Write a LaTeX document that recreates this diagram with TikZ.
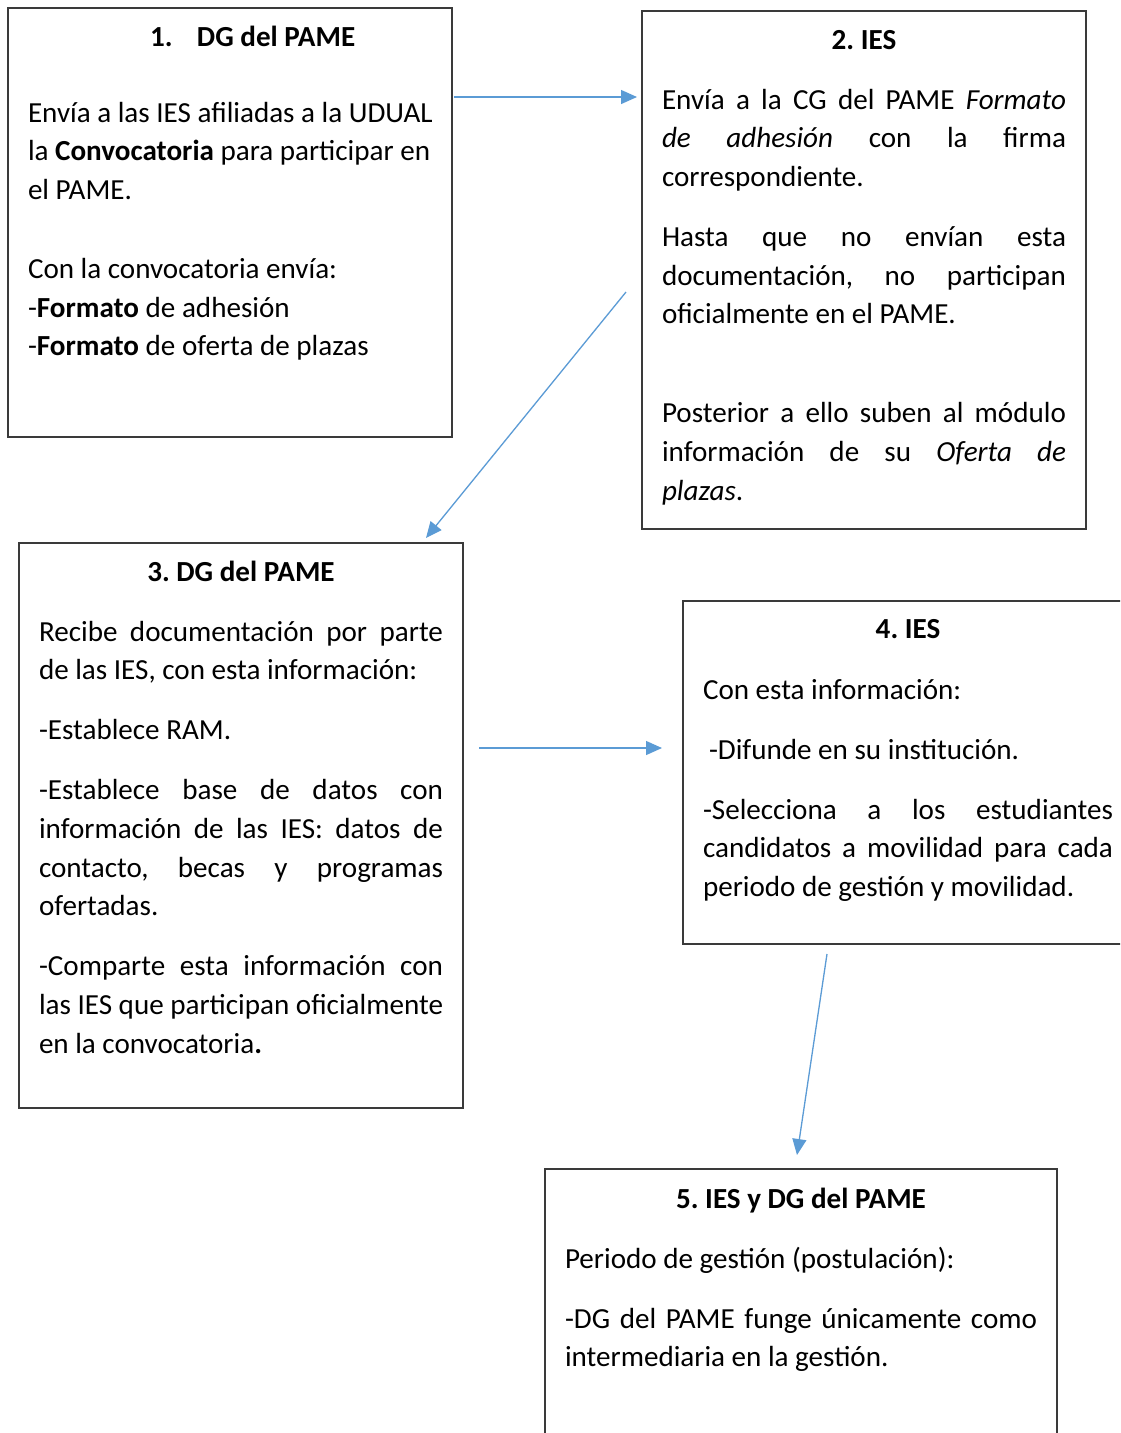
\documentclass[tikz,border=0pt]{standalone}
\usepackage{fontspec}
\setmainfont{Carlito}
\usetikzlibrary{arrows.meta,calc}
\definecolor{arrblue}{HTML}{5B9BD5}
\definecolor{boxgray}{HTML}{3A3A3A}
\newlength\tw
\newcommand\bodysetup[1]{\setlength{\tw}{#1}\frenchspacing\spaceskip=0.226em plus 0.1em minus 0.05em\relax\xspaceskip=\spaceskip}
\newcommand\jline[1]{\hbox to \tw{\spaceskip=0.226em plus 1fil\relax\xspaceskip=\spaceskip #1}\par}
\newcommand\nline[1]{\mbox{#1}\par}
\newcommand\pgap{\vspace{21.3pt}}
\newcommand\bodyfont{\fontsize{29.1}{38.7}\selectfont}
\tikzset{
  boxnode/.style={draw=boxgray, line width=1.4pt, anchor=north west, inner sep=0pt, outer sep=0pt},
  txtnode/.style={anchor=base west, inner sep=0pt, outer sep=0pt, align=left,
    text width=#1, font=\bodyfont},
  arr/.style={draw=arrblue, line width=1.3pt, -{Triangle[length=16pt,width=14pt]}},
}
\begin{document}
\begin{tikzpicture}[x=1pt,y=-1pt]
\useasboundingbox (0,0) rectangle (1120,1433);
\clip (0,0) rectangle (1120,1433);
\fill[white] (0,0) rectangle (1120,1433);

% boxes
\node[boxnode, minimum width=444pt, minimum height=429pt] (b1) at (8,8) {};
\node[boxnode, minimum width=444pt, minimum height=518pt] (b2) at (642,11) {};
\node[boxnode, minimum width=444pt, minimum height=565pt] (b3) at (19,543) {};
\node[boxnode, minimum width=450pt, minimum height=343pt] (b4) at (683,601) {};
\node[boxnode, minimum width=512pt, minimum height=300pt] (b5) at (545,1169) {};

% texts
\node[txtnode=404pt] (t1) at ($(b1.north west)+(20,38)$) {\bodysetup{404pt}%
\hspace*{122pt}\textbf{\makebox[47pt][l]{1.}DG del PAME}\par
\vspace{37.3pt}
\nline{Envía a las IES afiliadas a la UDUAL}
\nline{la \textbf{Convocatoria} para participar en}
\nline{el PAME.}
\vspace{40.3pt}
\nline{Con la convocatoria envía:}
\nline{-\textbf{Formato} de adhesión}
\nline{-\textbf{Formato} de oferta de plazas}
};

\node[txtnode=404pt] (t2) at ($(b2.north west)+(20,38)$) {\bodysetup{404pt}%
{\centering\bfseries 2. IES\par}
\pgap
\jline{Envía a la CG del PAME \textit{Formato}}
\jline{\textit{de} \textit{adhesión} con la firma}
\nline{correspondiente.}
\pgap
\jline{Hasta que no envían esta}
\jline{documentación, no participan}
\nline{oficialmente en el PAME.}
\vspace{60.3pt}
\jline{Posterior a ello suben al módulo}
\jline{información de su \textit{Oferta} \textit{de}}
\nline{\textit{plazas}.}
};

\node[txtnode=404pt] (t3) at ($(b3.north west)+(20,38)$) {\bodysetup{404pt}%
{\centering\bfseries 3. DG del PAME\par}
\pgap
\jline{Recibe documentación por parte}
\nline{de las IES, con esta información:}
\pgap
\nline{-Establece RAM.}
\pgap
\jline{-Establece base de datos con}
\jline{información de las IES: datos de}
\jline{contacto, becas y programas}
\nline{ofertadas.}
\pgap
\jline{-Comparte esta información con}
\jline{las IES que participan oficialmente}
\nline{en la convocatoria\textbf{.}}
};

\node[txtnode=410pt] (t4) at ($(b4.north west)+(20,37)$) {\bodysetup{410pt}%
{\centering\bfseries 4. IES\par}
\vspace{22.3pt}
\nline{Con esta información:}
\pgap
\nline{\hspace*{6pt}-Difunde en su institución.}
\pgap
\jline{-Selecciona a los estudiantes}
\jline{candidatos a movilidad para cada}
\nline{periodo de gestión y movilidad.}
};

\node[txtnode=472pt] (t5) at ($(b5.north west)+(20,39)$) {\bodysetup{472pt}%
{\centering\bfseries 5. IES y DG del PAME\par}
\pgap
\nline{Periodo de gestión (postulación):}
\pgap
\jline{-DG del PAME funge únicamente como}
\nline{intermediaria en la gestión.}
};

% arrow end points
\coordinate (a1s) at ($(b1.north east)+(2,89)$);
\coordinate (a1e) at ($(b2.north west)+(-5,86)$);
\coordinate (a2s) at ($(b2.north west)+(-16,281)$);
\coordinate (a2e) at ($(b3.north west)+(407,-5)$);
\coordinate (a3s) at ($(b3.north east)+(16,205)$);
\coordinate (a3e) at ($(b4.north west)+(-21,147)$);
\coordinate (a4s) at ($(b4.south west)+(144,10)$);
\coordinate (a4e) at ($(b5.north west)+(252,-14)$);

\draw[arr] (a1s) -- (a1e);
\draw[arr] (a2s) -- (a2e);
\draw[arr] (a3s) -- (a3e);
\draw[arr] (a4s) -- (a4e);
\end{tikzpicture}
\end{document}
